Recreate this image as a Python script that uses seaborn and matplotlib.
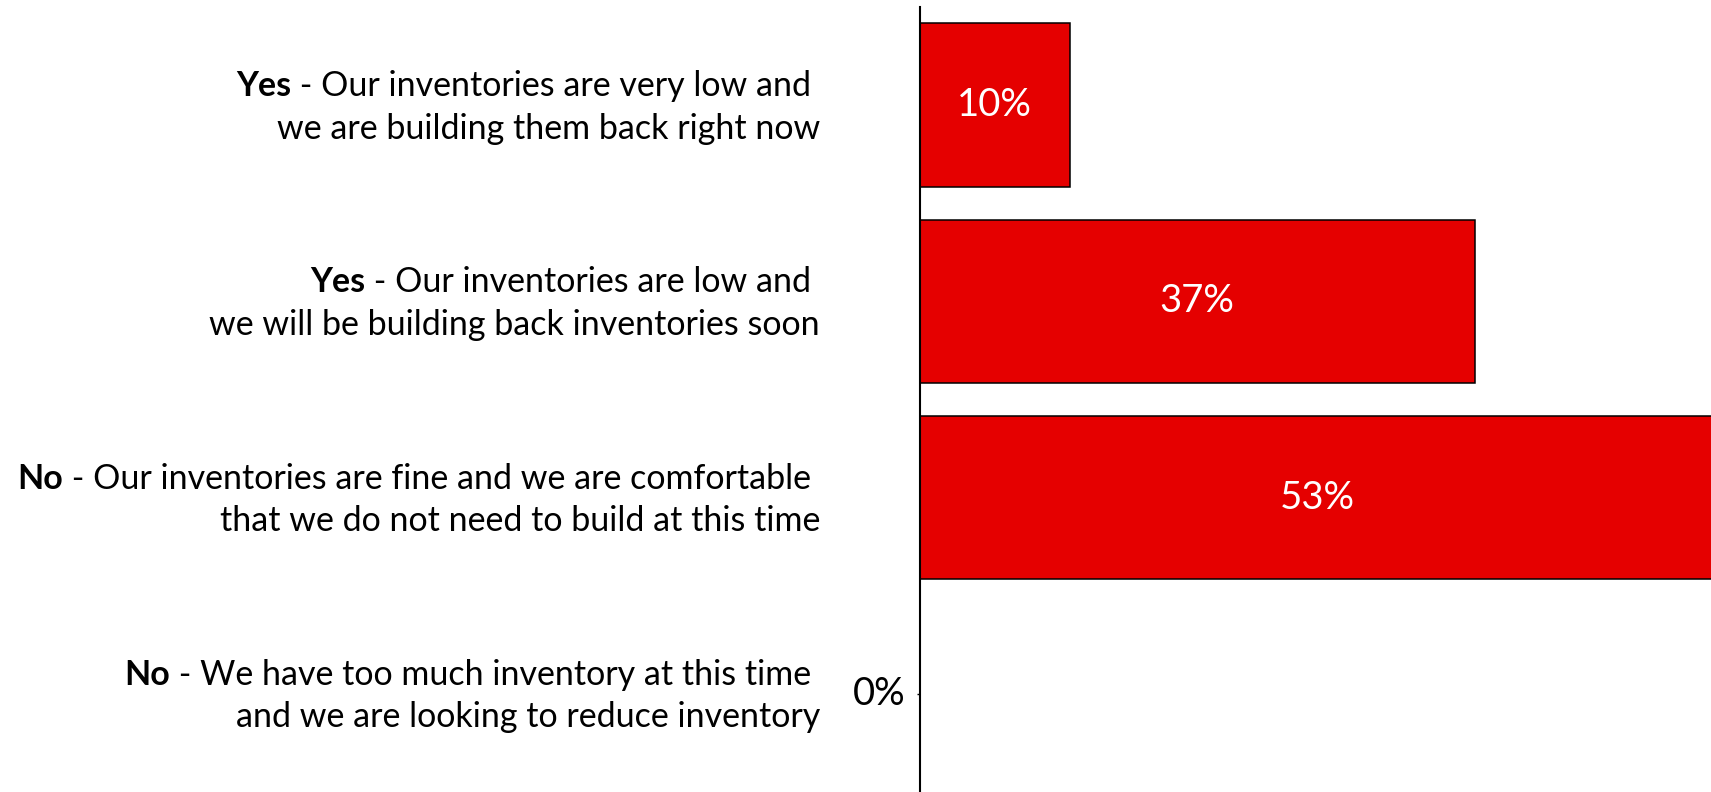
import matplotlib
matplotlib.use("Agg")
import matplotlib.pyplot as plt
import seaborn as sns

# Survey answers: bold lead word, first line, second line, share of respondents (%)
lead_words = ["Yes", "Yes", "No", "No"]
first_lines = [
    " - Our inventories are very low and ",
    " - Our inventories are low and ",
    " - Our inventories are fine and we are comfortable ",
    " - We have too much inventory at this time ",
]
second_lines = [
    "we are building them back right now",
    "we will be building back inventories soon",
    "that we do not need to build at this time",
    "and we are looking to reduce inventory",
]
values = [10, 37, 53, 0]
categories = [w + a.rstrip() + " " + b for w, a, b in zip(lead_words, first_lines, second_lines)]

BAR_RED = "#E50000"

sns.set_style("white")
plt.rcParams["font.family"] = ["Lato", "DejaVu Sans"]

W, H, DPI = 1711, 792, 100
fig = plt.figure(figsize=(W / DPI, H / DPI), dpi=DPI)
axis_x = 919.5
ax = fig.add_axes([axis_x / W, 0.0, 1 - axis_x / W, (H - 7) / H])

sns.barplot(x=values, y=categories, orient="h", color=BAR_RED, saturation=1,
            edgecolor="black", linewidth=1.1, width=0.834, ax=ax)

px_per_pct = 15.0
ax.set_xlim(0, (W - axis_x) / px_per_pct)
ax.set_ylim(len(values) - 0.5, -0.5)

for side in ["top", "right", "bottom"]:
    ax.spines[side].set_visible(False)
ax.spines["left"].set_linewidth(1.5)
ax.spines["left"].set_color("black")
ax.set_xticks([])
ax.set_xlabel("")
ax.set_ylabel("")

# Only the empty answer gets a small tick mark next to its label
zero_pos = [i for i, v in enumerate(values) if v == 0]
ax.set_yticks(zero_pos)
ax.set_yticklabels([""] * len(zero_pos))
ax.tick_params(axis="y", length=2.5, width=1, color="black", left=True)

# Value labels
value_fs = 27.5
for i, v in enumerate(values):
    if v > 0:
        ax.text(v / 2, i, f"{v}%", ha="center", va="center",
                fontsize=value_fs, color="white")
    else:
        ax.annotate(f"{v}%", xy=(v, i), xytext=(-14, 0), textcoords="offset pixels",
                    ha="right", va="center", fontsize=value_fs, color="black")

# Two-line category labels with a bold lead word
label_gap = 99.5
label_fs = 24.5
for i in range(len(values)):
    first = ax.annotate(first_lines[i], xy=(0, i), xycoords="data",
                        xytext=(-label_gap, 9), textcoords="offset pixels",
                        ha="right", va="baseline", fontsize=label_fs,
                        color="black", annotation_clip=False)
    ax.annotate(lead_words[i], xy=(0, 0), xycoords=first,
                ha="right", va="bottom", fontsize=label_fs,
                fontweight="bold", color="black", annotation_clip=False)
    ax.annotate(second_lines[i], xy=(0, i), xycoords="data",
                xytext=(-label_gap, -33.5), textcoords="offset pixels",
                ha="right", va="baseline", fontsize=label_fs,
                color="black", annotation_clip=False)

fig.savefig("out.png", dpi=DPI)
